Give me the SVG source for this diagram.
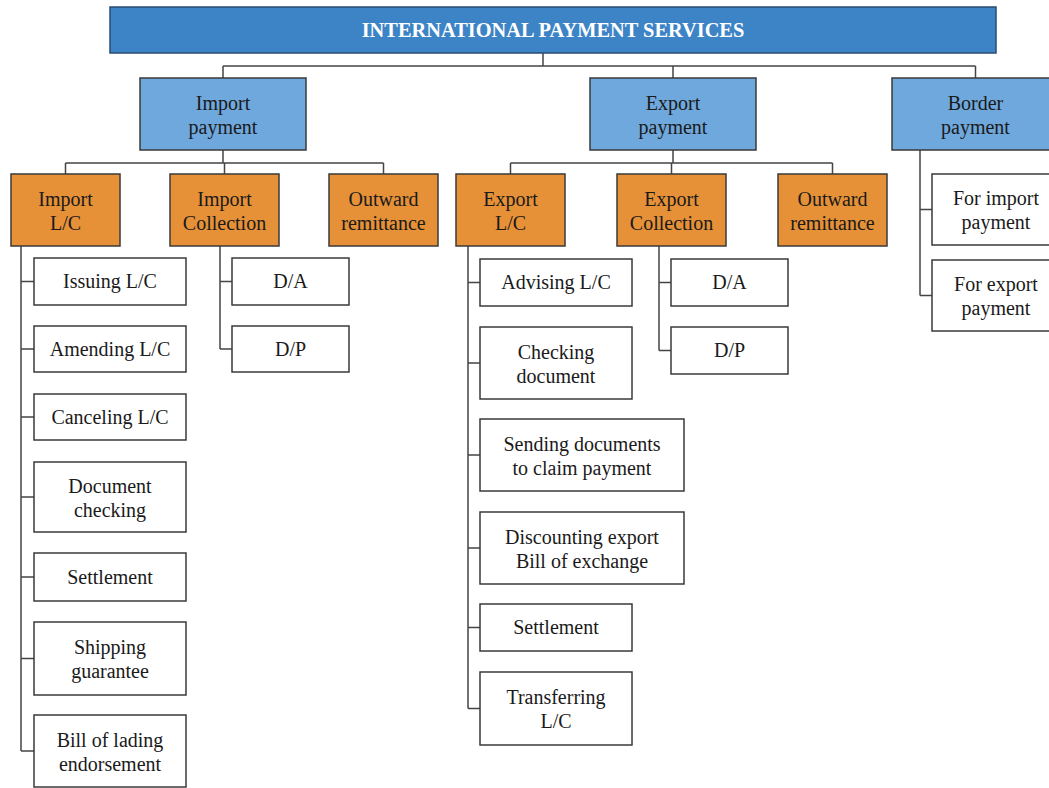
<svg xmlns="http://www.w3.org/2000/svg" width="1049" height="788" viewBox="0 0 1049 788">
<style>
rect{stroke:#3a3a3a;stroke-width:1.5}
.t{fill:#3d84c6;stroke:#2b4b70}
.b{fill:#6fa8dc}
.o{fill:#e69138}
.w{fill:#ffffff}
text{font-family:"Liberation Serif","Times New Roman",serif;font-size:20px;fill:#1a1a1a;text-anchor:middle}
.tt{font-weight:bold;fill:#ffffff;font-size:20.4px}
#connectors path{fill:none;stroke:#444;stroke-width:1.5}
</style>
<g id="connectors">
<path d="M543 53V66M223 66H975.5M223 66V78M673 66V78M975.5 66V78"/>
<path d="M223 150V163M65.5 163H383.5M65.5 163V174M224.5 163V174M383.5 163V174"/>
<path d="M673 150V163M510.5 163H832.5M510.5 163V174M671.5 163V174M832.5 163V174"/>
<path d="M21 246V751M21 281.5H34M21 349H34M21 417H34M21 497H34M21 577H34M21 658.5H34M21 751H34"/>
<path d="M220 246V349M220 281.5H232M220 349H232"/>
<path d="M468 246V708.5M468 282.5H480M468 363H480M468 455H480M468 548H480M468 627.5H480M468 708.5H480"/>
<path d="M659 246V350.5M659 282.5H671M659 350.5H671"/>
<path d="M920 150V295.5M920 209.5H932M920 295.5H932"/>
</g>
<g id="title"><rect class="t" x="110" y="7" width="886" height="46"/><text class="tt" x="553" y="37">INTERNATIONAL PAYMENT SERVICES</text></g>
<g id="import-payment"><rect class="b" x="140" y="78" width="166" height="72"/><text x="223" y="109.5">Import</text><text x="223" y="133.5">payment</text></g>
<g id="export-payment"><rect class="b" x="590" y="78" width="166" height="72"/><text x="673" y="109.5">Export</text><text x="673" y="133.5">payment</text></g>
<g id="border-payment"><rect class="b" x="892" y="78" width="168" height="72"/><text x="975.5" y="109.5">Border</text><text x="975.5" y="133.5">payment</text></g>
<g id="import-lc"><rect class="o" x="11" y="174" width="109" height="72"/><text x="65.5" y="205.5">Import</text><text x="65.5" y="229.5">L/C</text></g>
<g id="import-collection"><rect class="o" x="170" y="174" width="109" height="72"/><text x="224.5" y="205.5">Import</text><text x="224.5" y="229.5">Collection</text></g>
<g id="import-outward"><rect class="o" x="329" y="174" width="109" height="72"/><text x="383.5" y="205.5">Outward</text><text x="383.5" y="229.5">remittance</text></g>
<g id="export-lc"><rect class="o" x="456" y="174" width="109" height="72"/><text x="510.5" y="205.5">Export</text><text x="510.5" y="229.5">L/C</text></g>
<g id="export-collection"><rect class="o" x="617" y="174" width="109" height="72"/><text x="671.5" y="205.5">Export</text><text x="671.5" y="229.5">Collection</text></g>
<g id="export-outward"><rect class="o" x="778" y="174" width="109" height="72"/><text x="832.5" y="205.5">Outward</text><text x="832.5" y="229.5">remittance</text></g>
<g id="issuing-lc"><rect class="w" x="34" y="258" width="152" height="47"/><text x="110" y="288">Issuing L/C</text></g>
<g id="amending-lc"><rect class="w" x="34" y="326" width="152" height="46"/><text x="110" y="355.5">Amending L/C</text></g>
<g id="canceling-lc"><rect class="w" x="34" y="394" width="152" height="46"/><text x="110" y="423.5">Canceling L/C</text></g>
<g id="document-checking"><rect class="w" x="34" y="462" width="152" height="70"/><text x="110" y="492.5">Document</text><text x="110" y="516.5">checking</text></g>
<g id="import-settlement"><rect class="w" x="34" y="553" width="152" height="48"/><text x="110" y="583.5">Settlement</text></g>
<g id="shipping-guarantee"><rect class="w" x="34" y="622" width="152" height="73"/><text x="110" y="654">Shipping</text><text x="110" y="678">guarantee</text></g>
<g id="bill-of-lading"><rect class="w" x="34" y="715" width="152" height="72"/><text x="110" y="746.5">Bill of lading</text><text x="110" y="770.5">endorsement</text></g>
<g id="import-da"><rect class="w" x="232" y="258" width="117" height="47"/><text x="290.5" y="288">D/A</text></g>
<g id="import-dp"><rect class="w" x="232" y="326" width="117" height="46"/><text x="290.5" y="355.5">D/P</text></g>
<g id="advising-lc"><rect class="w" x="480" y="259" width="152" height="47"/><text x="556" y="289">Advising L/C</text></g>
<g id="checking-document"><rect class="w" x="480" y="327" width="152" height="72"/><text x="556" y="358.5">Checking</text><text x="556" y="382.5">document</text></g>
<g id="sending-documents"><rect class="w" x="480" y="419" width="204" height="72"/><text x="582" y="450.5">Sending documents</text><text x="582" y="474.5">to claim payment</text></g>
<g id="discounting"><rect class="w" x="480" y="512" width="204" height="72"/><text x="582" y="543.5">Discounting export</text><text x="582" y="567.5">Bill of exchange</text></g>
<g id="export-settlement"><rect class="w" x="480" y="604" width="152" height="47"/><text x="556" y="634">Settlement</text></g>
<g id="transferring-lc"><rect class="w" x="480" y="672" width="152" height="73"/><text x="556" y="704">Transferring</text><text x="556" y="728">L/C</text></g>
<g id="export-da"><rect class="w" x="671" y="259" width="117" height="47"/><text x="729.5" y="289">D/A</text></g>
<g id="export-dp"><rect class="w" x="671" y="327" width="117" height="47"/><text x="729.5" y="357">D/P</text></g>
<g id="for-import"><rect class="w" x="932" y="174" width="128" height="71"/><text x="996" y="205">For import</text><text x="996" y="229">payment</text></g>
<g id="for-export"><rect class="w" x="932" y="260" width="128" height="71"/><text x="996" y="291">For export</text><text x="996" y="315">payment</text></g>
</svg>
